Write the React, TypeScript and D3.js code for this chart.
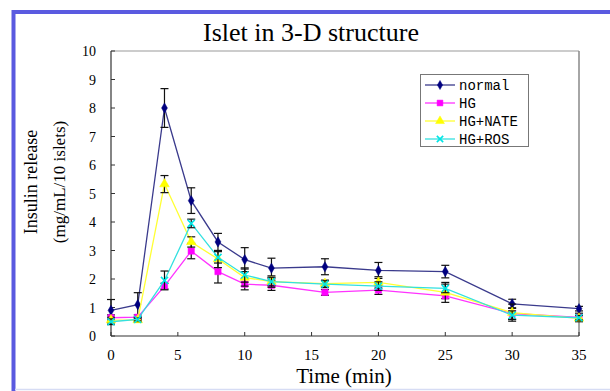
import React from 'react';
import * as d3 from 'd3';

const times = [0, 2, 4, 6, 8, 10, 12, 16, 20, 25, 30, 35];

const normal = [0.9, 1.1, 8.0, 4.75, 3.3, 2.68, 2.38, 2.43, 2.3, 2.26, 1.13, 0.96];
const normalErr = [0.38, 0.42, 0.68, 0.45, 0.3, 0.42, 0.35, 0.28, 0.28, 0.22, 0.16, 0.08];

const hg = [0.64, 0.66, 1.75, 2.98, 2.26, 1.82, 1.78, 1.53, 1.61, 1.41, 0.79, 0.65];
const hgErr = [0.1, 0.08, 0.1, 0.27, 0.4, 0.2, 0.18, 0.1, 0.15, 0.1, 0.2, 0.15];

const hgNate = [0.56, 0.56, 5.33, 3.3, 2.7, 2.05, 1.91, 1.84, 1.88, 1.53, 0.82, 0.62];
const hgNateErr = [0.1, 0.08, 0.3, 0.18, 0.3, 0.3, 0.2, 0.12, 0.2, 0.35, 0.3, 0.1];

const hgRos = [0.5, 0.58, 1.95, 3.95, 2.76, 2.14, 1.91, 1.82, 1.75, 1.67, 0.73, 0.64];
const hgRosErr = [0.1, 0.05, 0.33, 0.15, 0.2, 0.25, 0.15, 0.12, 0.15, 0.15, 0.15, 0.08];

const yTicks = [0, 1, 2, 3, 4, 5, 6, 7, 8, 9, 10];
const xTicks = [0, 5, 10, 15, 20, 25, 30, 35];

const series = [
  { name: 'normal', values: normal, err: normalErr, color: '#000080', line: '#3a3a8c', symbol: d3.symbolDiamond, size: 30 },
  { name: 'HG', values: hg, err: hgErr, color: '#ff00ff', line: '#ff33ff', symbol: d3.symbolSquare, size: 40 },
  { name: 'HG+NATE', values: hgNate, err: hgNateErr, color: '#ffff00', line: '#ffff33', symbol: d3.symbolTriangle, size: 40 },
  { name: 'HG+ROS', values: hgRos, err: hgRosErr, color: '#00e5e5', line: '#33e0e0', symbol: d3.symbolX, size: 34 },
];

const serif = '"Times New Roman", "Liberation Serif", serif';
const mono = '"Courier New", "Liberation Mono", monospace';

export default function App() {
  const left = 111, right = 579, top = 51, bottom = 336;
  const x = d3.scaleLinear().domain([0, 35]).range([left, right]);
  const y = d3.scaleLinear().domain([0, 10]).range([bottom, top]);

  const line = d3.line<number>()
    .x((_, i) => x(times[i]))
    .y(d => y(d));

  const marker = (sym: d3.SymbolType, size: number) => d3.symbol().type(sym).size(size)() || '';

  return (
    <svg width={610} height={391} style={{ position: 'absolute', left: 0, top: 0, background: '#fff' }}>
      {/* outer frame */}
      <path d="M13.5,391 L13.5,12 L610,12" fill="none" stroke="#5a5ae0" strokeWidth={4} />
      <line x1={15} x2={610} y1={389.5} y2={389.5} stroke="#d6dcf4" strokeWidth={1.5} />

      <text x={311} y={41} textAnchor="middle" fontFamily={serif} fontSize={26}>Islet in 3-D structure</text>

      {/* plot frame */}
      <line x1={left} x2={right} y1={top} y2={top} stroke="#999" strokeWidth={1.2} />
      <line x1={right} x2={right} y1={top} y2={bottom} stroke="#888" strokeWidth={1.5} />
      <line x1={left} x2={left} y1={top} y2={bottom} stroke="#333" strokeWidth={1.2} />
      <line x1={left} x2={right} y1={bottom} y2={bottom} stroke="#333" strokeWidth={1.2} />

      {yTicks.map(t => (
        <g key={'y' + t}>
          <line x1={left} x2={left + 4} y1={y(t)} y2={y(t)} stroke="#333" />
          <text x={96} y={y(t) + 5} textAnchor="end" fontFamily={serif} fontSize={14}>{t}</text>
        </g>
      ))}
      {xTicks.map(t => (
        <g key={'x' + t}>
          <line x1={x(t)} x2={x(t)} y1={bottom} y2={bottom - 4} stroke="#333" />
          <text x={x(t)} y={360} textAnchor="middle" fontFamily={serif} fontSize={15}>{t}</text>
        </g>
      ))}

      <text x={344} y={383} textAnchor="middle" fontFamily={serif} fontSize={21}>Time (min)</text>
      <text transform="translate(37,182) rotate(-90)" textAnchor="middle" fontFamily={serif} fontSize={18}>Insulin release</text>
      <text transform="translate(65,182) rotate(-90)" textAnchor="middle" fontFamily={serif} fontSize={17}>(mg/mL/10 islets)</text>

      {series.map(s => (
        <g key={s.name}>
          <path d={line(s.values) || ''} fill="none" stroke={s.line} strokeWidth={1.3} />
          {s.values.map((v, i) => {
            const cx = x(times[i]);
            const y1 = y(v + s.err[i]);
            const y2 = y(v - s.err[i]);
            return (
              <g key={i}>
                <line x1={cx} x2={cx} y1={y1} y2={y2} stroke="#111" strokeWidth={1.2} />
                <line x1={cx - 4} x2={cx + 4} y1={y1} y2={y1} stroke="#111" strokeWidth={1.2} />
                <line x1={cx - 4} x2={cx + 4} y1={y2} y2={y2} stroke="#111" strokeWidth={1.2} />
              </g>
            );
          })}
          {s.values.map((v, i) => (
            <path key={'m' + i} transform={`translate(${x(times[i])},${y(v)})`}
              d={marker(s.symbol, s.size)}
              fill={s.symbol === d3.symbolX ? 'none' : s.color}
              stroke={s.color} strokeWidth={s.symbol === d3.symbolX ? 1.6 : 0.5} />
          ))}
        </g>
      ))}

      {/* legend */}
      <rect x={420.5} y={74.5} width={108} height={72} fill="#fff" stroke="#777" strokeWidth={1} />
      {series.map((s, i) => {
        const ly = 85 + i * 18;
        return (
          <g key={'l' + s.name}>
            <line x1={425} x2={455} y1={ly} y2={ly} stroke={s.line} strokeWidth={1.3} />
            <path transform={`translate(440,${ly})`}
              d={marker(s.symbol, s.size - 6)}
              fill={s.symbol === d3.symbolX ? 'none' : s.color}
              stroke={s.color} strokeWidth={s.symbol === d3.symbolX ? 1.6 : 0.5} />
            <text x={459} y={ly + 4.5} fontFamily={mono} fontSize={14}>{s.name}</text>
          </g>
        );
      })}
    </svg>
  );
}
